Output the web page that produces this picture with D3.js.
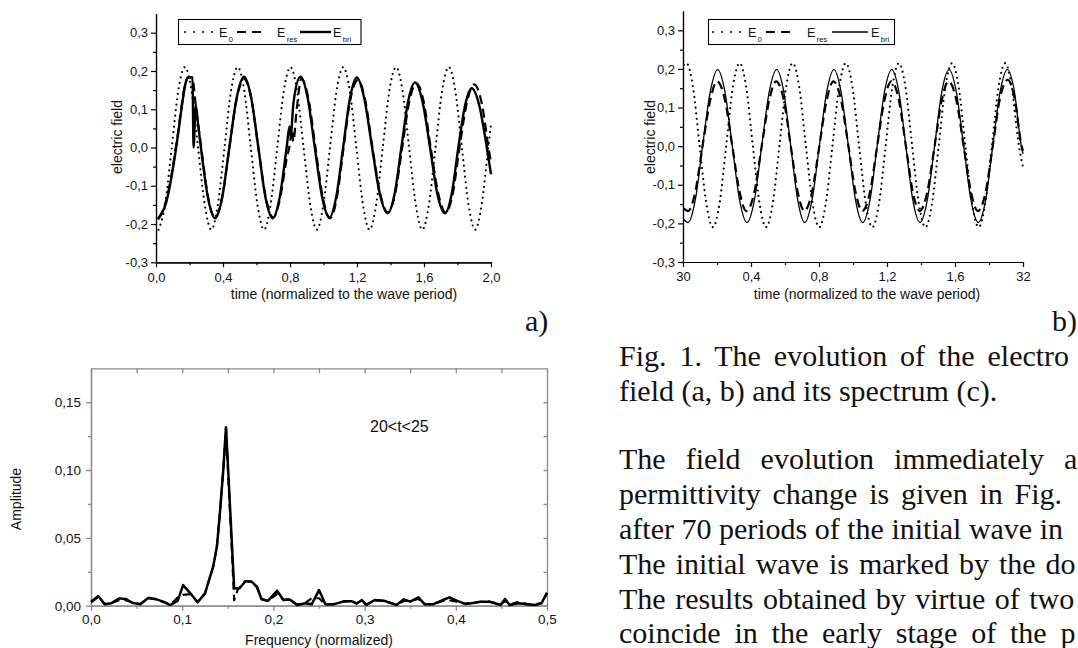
<!DOCTYPE html>
<html>
<head>
<meta charset="utf-8">
<title>Fig. 1</title>
<script src="https://cdnjs.cloudflare.com/ajax/libs/d3/7.8.5/d3.min.js"></script>
<style>
body { margin: 0; background: #fff; }
svg { display: block; }
.tick text { font-family: "Liberation Sans", Arial, sans-serif; font-size: 13px; fill: #111; }
.spec .tick text { font-size: 13.5px; }
.lbl { font-family: "Liberation Sans", Arial, sans-serif; font-size: 14px; fill: #111; }
.leg { font-family: "Liberation Sans", Arial, sans-serif; font-size: 12.5px; fill: #111; }
.sub { font-size: 7.5px; }
.serif { font-family: "Liberation Serif", "Times New Roman", serif; font-size: 30px; fill: #111; }
</style>
</head>
<body>
<svg width="1078" height="648"></svg>
<script>
// ---- panel a: field right after the permittivity change, [time, field]
var aE0 = [[0.015,-0.215],[0.054,-0.150],[0.094,0.000],[0.133,0.148],[0.173,0.210],[0.212,0.148],[0.251,0.000],[0.291,-0.150],
  [0.330,-0.215],[0.369,-0.150],[0.409,0.000],[0.448,0.148],[0.488,0.210],[0.527,0.148],[0.566,0.000],[0.606,-0.150],
  [0.645,-0.215],[0.684,-0.150],[0.724,0.000],[0.763,0.148],[0.803,0.210],[0.842,0.148],[0.881,0.000],[0.921,-0.150],
  [0.960,-0.215],[0.999,-0.150],[1.039,0.000],[1.078,0.148],[1.118,0.210],[1.157,0.148],[1.196,0.000],[1.236,-0.150],
  [1.275,-0.215],[1.314,-0.150],[1.354,0.000],[1.393,0.148],[1.433,0.210],[1.472,0.148],[1.511,0.000],[1.551,-0.150],
  [1.590,-0.215],[1.629,-0.150],[1.669,0.000],[1.708,0.148],[1.748,0.210],[1.787,0.148],[1.826,0.000],[1.866,-0.150],
  [1.905,-0.215],[1.944,-0.150],[1.984,0.000],[2.000,0.060]];
var aRes = [[0.012,-0.185],[0.035,-0.170],[0.060,-0.140],[0.085,-0.090],[0.110,-0.025],[0.135,0.050],[0.155,0.115],[0.175,0.168],
  [0.195,0.183],[0.215,0.183],[0.240,0.100],[0.270,0.000],[0.311,-0.130],[0.352,-0.183],[0.395,-0.130],[0.438,0.000],
  [0.482,0.128],[0.525,0.180],[0.568,0.130],[0.611,0.000],[0.655,-0.130],[0.700,-0.183],[0.742,-0.130],[0.780,-0.030],
  [0.800,0.012],[0.810,0.047],[0.820,0.016],[0.840,0.100],[0.868,0.180],[0.910,0.128],[0.952,0.000],[0.995,-0.128],
  [1.040,-0.185],[1.080,-0.130],[1.120,0.000],[1.160,0.125],[1.205,0.176],[1.250,0.122],[1.292,0.000],[1.338,-0.120],
  [1.385,-0.170],[1.428,-0.120],[1.470,0.000],[1.512,0.120],[1.555,0.168],[1.598,0.120],[1.640,0.000],[1.685,-0.120],
  [1.730,-0.170],[1.772,-0.120],[1.812,0.000],[1.855,0.115],[1.900,0.165],[1.945,0.115],[1.985,0.000],[2.000,-0.040]];
var aBri = [[0.012,-0.188],[0.035,-0.172],[0.060,-0.145],[0.085,-0.095],[0.110,-0.030],[0.135,0.045],[0.155,0.110],[0.175,0.165],
  [0.190,0.183],[0.205,0.184],[0.218,0.183],[0.224,0.000],[0.238,0.110],[0.250,0.065],[0.268,0.000],[0.310,-0.131],
  [0.352,-0.185],[0.395,-0.131],[0.438,0.000],[0.482,0.131],[0.525,0.185],[0.568,0.131],[0.611,0.000],[0.654,-0.131],
  [0.697,-0.185],[0.738,-0.131],[0.780,0.000],[0.797,0.055],[0.804,0.030],[0.821,0.118],[0.862,0.185],[0.905,0.131],
  [0.948,0.000],[0.991,-0.128],[1.035,-0.183],[1.076,-0.129],[1.117,0.000],[1.158,0.129],[1.199,0.183],[1.245,0.125],
  [1.290,0.000],[1.336,-0.121],[1.383,-0.172],[1.424,-0.122],[1.465,0.000],[1.505,0.120],[1.546,0.170],[1.591,0.120],
  [1.636,0.000],[1.680,-0.122],[1.725,-0.172],[1.765,-0.122],[1.805,0.000],[1.845,0.110],[1.885,0.155],[1.930,0.110],
  [1.975,0.000],[2.000,-0.070]];

// ---- panel b: after 30 periods
var bE0 = [[0.005,0.210],[0.020,0.215],[0.059,0.152],[0.098,0.000],[0.137,-0.148],[0.176,-0.210],[0.215,-0.148],[0.254,0.000],[0.293,0.152],
  [0.333,0.215],[0.372,0.152],[0.411,0.000],[0.450,-0.148],[0.489,-0.210],[0.528,-0.148],[0.567,0.000],[0.606,0.152],
  [0.645,0.215],[0.684,0.152],[0.723,0.000],[0.762,-0.148],[0.801,-0.210],[0.840,-0.148],[0.879,0.000],[0.918,0.152],
  [0.958,0.215],[0.997,0.152],[1.036,0.000],[1.075,-0.148],[1.114,-0.210],[1.153,-0.148],[1.192,0.000],[1.231,0.152],
  [1.270,0.215],[1.309,0.152],[1.348,0.000],[1.387,-0.148],[1.426,-0.210],[1.465,-0.148],[1.504,0.000],[1.543,0.152],
  [1.583,0.215],[1.622,0.152],[1.661,0.000],[1.700,-0.148],[1.739,-0.210],[1.778,-0.148],[1.817,0.000],[1.856,0.152],
  [1.895,0.215],[1.934,0.152],[1.973,0.010],[2.000,-0.055]];
var bRes = [[0.005,-0.162],[0.030,-0.168],[0.072,-0.119],[0.115,0.000],[0.160,0.119],[0.200,0.168],[0.247,0.119],[0.290,0.000],
  [0.333,-0.119],[0.372,-0.168],[0.420,-0.119],[0.463,0.000],[0.507,0.119],[0.548,0.168],[0.593,0.119],[0.634,0.000],
  [0.675,-0.119],[0.714,-0.168],[0.759,-0.119],[0.802,0.000],[0.845,0.119],[0.885,0.168],[0.930,0.119],[0.973,0.000],
  [1.015,-0.119],[1.055,-0.168],[1.100,-0.119],[1.142,0.000],[1.185,0.119],[1.225,0.168],[1.270,0.119],[1.311,0.000],
  [1.352,-0.119],[1.392,-0.168],[1.437,-0.119],[1.480,0.000],[1.522,0.119],[1.562,0.168],[1.608,0.119],[1.651,0.000],
  [1.694,-0.119],[1.735,-0.168],[1.780,-0.119],[1.822,0.000],[1.865,0.125],[1.910,0.172],[1.950,0.125],[1.992,0.000],
  [2.000,-0.012]];
var bBri = [[0.005,-0.190],[0.030,-0.198],[0.072,-0.140],[0.115,0.000],[0.160,0.140],[0.204,0.198],[0.247,0.140],[0.290,0.000],
  [0.333,-0.140],[0.376,-0.198],[0.420,-0.140],[0.463,0.000],[0.507,0.140],[0.551,0.198],[0.593,0.140],[0.634,0.000],
  [0.675,-0.140],[0.716,-0.198],[0.759,-0.140],[0.802,0.000],[0.845,0.140],[0.888,0.198],[0.930,0.140],[0.973,0.000],
  [1.015,-0.140],[1.057,-0.198],[1.100,-0.140],[1.142,0.000],[1.185,0.140],[1.228,0.198],[1.270,0.140],[1.311,0.000],
  [1.352,-0.140],[1.394,-0.198],[1.437,-0.140],[1.480,0.000],[1.522,0.140],[1.565,0.198],[1.608,0.140],[1.651,0.000],
  [1.694,-0.140],[1.737,-0.198],[1.780,-0.140],[1.822,0.000],[1.865,0.140],[1.908,0.198],[1.950,0.140],[1.990,0.000],
  [2.000,-0.020]];

// ---- panel c: spectrum, [frequency, amplitude]
var cRes = [[0.000,0.0025],[0.008,0.0065],[0.015,0.0012],[0.022,0.0020],[0.031,0.0040],[0.038,0.0040],[0.045,0.0025],[0.054,0.0012],
  [0.063,0.0055],[0.072,0.0045],[0.079,0.0028],[0.087,0.0008],[0.095,0.0060],[0.101,0.0080],[0.109,0.0085],[0.117,0.0028],
  [0.125,0.0090],[0.130,0.0200],[0.134,0.0288],[0.138,0.0432],[0.141,0.0650],[0.145,0.0995],[0.148,0.1310],[0.157,0.0040],
  [0.161,0.0120],[0.169,0.0182],[0.176,0.0175],[0.182,0.0135],[0.187,0.0050],[0.194,0.0038],[0.204,0.0085],[0.211,0.0045],
  [0.218,0.0045],[0.226,0.0008],[0.235,0.0020],[0.242,0.0055],[0.250,0.0055],[0.257,0.0012],[0.266,0.0012],[0.277,0.0030],
  [0.286,0.0035],[0.291,0.0018],[0.297,0.0035],[0.302,0.0008],[0.311,0.0040],[0.321,0.0035],[0.335,0.0008],[0.343,0.0035],
  [0.350,0.0035],[0.359,0.0050],[0.366,0.0012],[0.375,0.0012],[0.386,0.0035],[0.393,0.0040],[0.401,0.0030],[0.410,0.0015],
  [0.417,0.0020],[0.427,0.0028],[0.436,0.0032],[0.443,0.0020],[0.449,0.0008],[0.454,0.0035],[0.459,0.0008],[0.469,0.0030],
  [0.478,0.0012],[0.487,0.0008],[0.494,0.0020],[0.500,0.0090]];
var cBri = [[0.000,0.0030],[0.008,0.0071],[0.015,0.0010],[0.022,0.0018],[0.031,0.0054],[0.038,0.0050],[0.045,0.0022],[0.054,0.0010],
  [0.063,0.0059],[0.072,0.0047],[0.079,0.0030],[0.087,0.0005],[0.095,0.0035],[0.101,0.0152],[0.109,0.0091],[0.117,0.0025],
  [0.125,0.0091],[0.130,0.0201],[0.134,0.0290],[0.138,0.0434],[0.141,0.0654],[0.145,0.0998],[0.148,0.1316],[0.157,0.0128],
  [0.163,0.0128],[0.169,0.0178],[0.176,0.0178],[0.182,0.0140],[0.187,0.0047],[0.194,0.0035],[0.204,0.0110],[0.211,0.0042],
  [0.218,0.0045],[0.226,0.0005],[0.235,0.0018],[0.242,0.0010],[0.250,0.0115],[0.257,0.0010],[0.266,0.0010],[0.277,0.0032],
  [0.286,0.0032],[0.291,0.0015],[0.297,0.0042],[0.302,0.0005],[0.311,0.0042],[0.321,0.0037],[0.335,0.0005],[0.343,0.0047],
  [0.350,0.0030],[0.359,0.0062],[0.366,0.0010],[0.375,0.0010],[0.386,0.0042],[0.393,0.0062],[0.401,0.0037],[0.410,0.0013],
  [0.417,0.0018],[0.427,0.0030],[0.436,0.0030],[0.443,0.0018],[0.449,0.0005],[0.454,0.0050],[0.459,0.0005],[0.469,0.0018],
  [0.478,0.0010],[0.487,0.0005],[0.494,0.0018],[0.500,0.0096]];

// ---- ticks
var fieldTicks = [-0.3, -0.2, -0.1, 0, 0.1, 0.2, 0.3];
var fieldLabels = ["-0,3", "-0,2", "-0,1", "0,0", "0,1", "0,2", "0,3"];
var fieldMinor = [-0.25, -0.15, -0.05, 0.05, 0.15, 0.25];
var timeTicks = [0, 0.4, 0.8, 1.2, 1.6, 2.0];
var timeLabelsA = ["0,0", "0,4", "0,8", "1,2", "1,6", "2,0"];
var timeLabelsB = ["30", "0,4", "0,8", "1,2", "1,6", "32"];
var timeMinor = [0.2, 0.6, 1.0, 1.4, 1.8];
var freqTicks = [0, 0.1, 0.2, 0.3, 0.4, 0.5];
var freqLabels = ["0,0", "0,1", "0,2", "0,3", "0,4", "0,5"];
var freqMinor = [0.05, 0.15, 0.25, 0.35, 0.45];
var ampTicks = [0, 0.05, 0.10, 0.15];
var ampLabels = ["0,00", "0,05", "0,10", "0,15"];
var ampMinor = [0.025, 0.075, 0.125];

// ---- page text (only the part visible in the cropped page)
var captionLines = ["Fig. 1. The evolution of the electro", "field (a, b) and its spectrum (c)."];
var captionGaps = [5.4, 0];
var bodyLines = ["The field evolution immediately a",
  "permittivity change is given in Fig.",
  "after 70 periods of the initial wave in",
  "The initial wave is marked by the do",
  "The results obtained by virtue of two",
  "coincide in the early stage of the p"];
var bodyGaps = [12.5, 4.3, 0, 2.5, 2.0, 6.3];

var svg = d3.select("svg");

var dotted = { w: 2.2, dash: "0,5.5", cap: "round" };
var dashed = { w: 2.2, dash: "9,5", cap: "butt" };

function plotLine(g, data, x, y, st, curve) {
  var line = d3.line().x(function (d) { return x(d[0]); }).y(function (d) { return y(d[1]); }).curve(curve);
  var p = g.append("path").datum(data).attr("d", line)
    .attr("fill", "none").attr("stroke", "#000").attr("stroke-width", st.w)
    .attr("stroke-linejoin", "round").attr("stroke-linecap", st.cap || "butt");
  if (st.dash) p.attr("stroke-dasharray", st.dash);
}

function labelAt(vals, labels) {
  return function (d) { return labels[vals.indexOf(d)]; };
}

function fieldPanel(x, y, xLabels, e0, res, bri, briW, leg, ylabX, xlabX) {
  var g = svg.append("g");
  var x0 = x.range()[0];
  var y0 = y(-0.3);
  g.append("g").attr("transform", "translate(" + x0 + ",0)")
    .call(d3.axisLeft(y).tickValues(fieldTicks).tickFormat(labelAt(fieldTicks, fieldLabels)).tickSize(5).tickSizeOuter(0).tickPadding(3));
  g.append("g").attr("transform", "translate(" + x0 + ",0)")
    .call(d3.axisLeft(y).tickValues(fieldMinor).tickFormat("").tickSize(3).tickSizeOuter(0));
  g.append("g").attr("transform", "translate(0," + y0 + ")")
    .call(d3.axisBottom(x).tickValues(timeTicks).tickFormat(labelAt(timeTicks, xLabels)).tickSize(5).tickSizeOuter(0).tickPadding(5));
  g.append("g").attr("transform", "translate(0," + y0 + ")")
    .call(d3.axisBottom(x).tickValues(timeMinor).tickFormat("").tickSize(3).tickSizeOuter(0));
  g.selectAll(".domain, .tick line").attr("stroke", "#000").attr("stroke-width", 1.2);

  plotLine(g, e0, x, y, dotted, d3.curveMonotoneX);
  plotLine(g, res, x, y, dashed, d3.curveMonotoneX);
  plotLine(g, bri, x, y, { w: briW }, d3.curveMonotoneX);

  g.append("text").attr("class", "lbl").attr("transform", "translate(" + ylabX + ",137) rotate(-90)")
    .attr("text-anchor", "middle").text("electric field");
  g.append("text").attr("class", "lbl").attr("x", xlabX).attr("y", 299)
    .attr("text-anchor", "middle").text("time (normalized to the wave period)");

  // legend box
  var lg = g.append("g");
  lg.append("rect").attr("x", leg.x).attr("y", 19.5).attr("width", leg.w).attr("height", 25)
    .attr("fill", "#fff").attr("stroke", "#000").attr("stroke-width", 1.1);
  var styles = [{ w: 2, dash: "0,9", cap: "round" }, { w: 2.2, dash: "9,6" }, { w: briW }];
  var subs = ["0", "res", "bri"];
  leg.items.forEach(function (it, i) {
    var l = lg.append("line").attr("x1", it[0]).attr("x2", it[1]).attr("y1", 32).attr("y2", 32)
      .attr("stroke", "#000").attr("stroke-width", styles[i].w).attr("stroke-linecap", styles[i].cap || "butt");
    if (styles[i].dash) l.attr("stroke-dasharray", styles[i].dash);
    var t = lg.append("text").attr("class", "leg").attr("x", it[2]).attr("y", 36.7).text("E");
    t.append("tspan").attr("class", "sub").attr("dx", 1.5).attr("dy", 5).text(subs[i]);
  });
}

// panel a
var ax = d3.scaleLinear().domain([0, 2]).range([156, 491]);
var ay = d3.scaleLinear().domain([-0.3, 0.35]).range([262.3, 13.6]);
fieldPanel(ax, ay, timeLabelsA, aE0, aRes, aBri, 2.4,
  { x: 178.5, w: 182.5, items: [[185, 216, 219], [237, 266, 277], [300, 331, 333]] }, 121.5, 344);

// panel b
var bx = d3.scaleLinear().domain([0, 2]).range([683, 1023]);
var by = d3.scaleLinear().domain([-0.3, 0.35]).range([262, 11]);
fieldPanel(bx, by, timeLabelsB, bE0, bRes, bBri, 1.3,
  { x: 708.5, w: 186, items: [[713, 742, 748], [766, 792, 807], [832, 868, 871]] }, 655, 867);

// panel c
var cx = d3.scaleLinear().domain([0, 0.5]).range([91, 547]);
var cy = d3.scaleLinear().domain([0, 0.175]).range([605.7, 368.3]);
var gc = svg.append("g").attr("class", "spec");
gc.append("g").attr("transform", "translate(91,0)")
  .call(d3.axisLeft(cy).tickValues(ampTicks).tickFormat(labelAt(ampTicks, ampLabels)).tickSize(5).tickSizeOuter(0).tickPadding(5));
gc.append("g").attr("transform", "translate(91,0)")
  .call(d3.axisLeft(cy).tickValues(ampMinor).tickFormat("").tickSize(3).tickSizeOuter(0));
gc.append("g").attr("transform", "translate(547,0)")
  .call(d3.axisRight(cy).tickValues(ampTicks.concat(ampMinor)).tickFormat("").tickSize(-3.5).tickSizeOuter(0));
gc.append("g").attr("transform", "translate(0,605.7)")
  .call(d3.axisBottom(cx).tickValues(freqTicks).tickFormat(labelAt(freqTicks, freqLabels)).tickSize(5).tickSizeOuter(0).tickPadding(3.5));
gc.append("g").attr("transform", "translate(0,605.7)")
  .call(d3.axisBottom(cx).tickValues(freqMinor).tickFormat("").tickSize(3).tickSizeOuter(0));
gc.append("g").attr("transform", "translate(0,368.3)")
  .call(d3.axisTop(cx).tickValues(freqTicks.concat(freqMinor)).tickFormat("").tickSize(-5).tickSizeOuter(0));
gc.selectAll(".domain, .tick line").attr("stroke", "#8a8a8a").attr("stroke-width", 1.3);

plotLine(gc, cRes, cx, cy, { w: 2.2, dash: "8,5" }, d3.curveLinear);
plotLine(gc, cBri, cx, cy, { w: 2.5 }, d3.curveLinear);

gc.append("text").attr("class", "lbl").attr("transform", "translate(20.5,499) rotate(-90)")
  .attr("text-anchor", "middle").text("Amplitude");
gc.append("text").attr("class", "lbl").attr("x", 319).attr("y", 645)
  .attr("text-anchor", "middle").text("Frequency (normalized)");
gc.append("text").attr("class", "lbl").attr("x", 370).attr("y", 431.5)
  .style("font-size", "16px").text("20<t<25");

// panel tags and page text
svg.append("text").attr("class", "serif").attr("x", 525).attr("y", 331).text("a)");
svg.append("text").attr("class", "serif").attr("x", 1052).attr("y", 331).text("b)");

captionLines.forEach(function (s, i) {
  svg.append("text").attr("class", "serif").attr("x", 619).attr("y", 366 + i * 34.7)
    .style("word-spacing", captionGaps[i] + "px").text(s);
});
bodyLines.forEach(function (s, i) {
  svg.append("text").attr("class", "serif").attr("x", 619).attr("y", 469.3 + i * 34.8)
    .style("word-spacing", bodyGaps[i] + "px").text(s);
});
</script>
</body>
</html>
